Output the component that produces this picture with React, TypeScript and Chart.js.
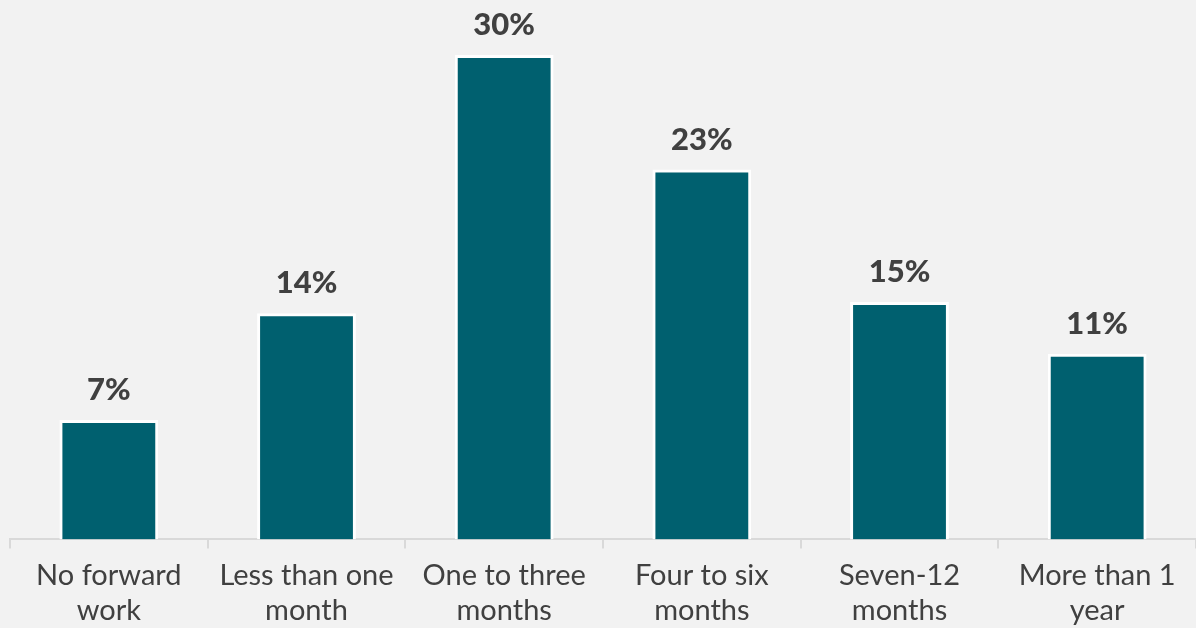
import React, { useEffect, useRef } from "react";
import { Chart, registerables } from "chart.js";
Chart.register(...registerables);

const categories: string[][] = [
  ["No forward", "work"],
  ["Less than one", "month"],
  ["One to three", "months"],
  ["Four to six", "months"],
  ["Seven-12", "months"],
  ["More than 1", "year"],
];
const values: number[] = [7.4, 14.0, 30.0, 22.9, 14.7, 11.5];
const valueLabels: string[] = ["7%", "14%", "30%", "23%", "15%", "11%"];

const labelPlugin = {
  id: "barLabels",
  afterDatasetsDraw(chart: any) {
    const ctx = chart.ctx;
    const meta = chart.getDatasetMeta(0);
    ctx.save();
    ctx.font = "900 31px Lato";
    ctx.fillStyle = "#404040";
    ctx.textAlign = "center";
    ctx.textBaseline = "alphabetic";
    meta.data.forEach((el: any, i: number) => {
      ctx.fillText(valueLabels[i], el.x, el.y - 20);
    });
    ctx.restore();
  },
};

export default function App() {
  const ref = useRef<HTMLCanvasElement | null>(null);
  useEffect(() => {
    document.body.style.margin = "0";
    document.body.style.background = "#f2f2f2";
    const chart = new Chart(ref.current!, {
      type: "bar",
      data: {
        labels: categories,
        datasets: [
          {
            data: values,
            backgroundColor: "#00606f",
            borderColor: "#ffffff",
            borderWidth: 3,
            borderSkipped: "bottom",
            barPercentage: 0.5,
            categoryPercentage: 1,
          },
        ],
      },
      options: {
        responsive: false,
        animation: false,
        layout: { padding: { left: 10, right: 0, top: 0, bottom: -10 } },
        plugins: { legend: { display: false }, tooltip: { enabled: false } },
        scales: {
          y: { display: false, min: 0, max: 33.4 },
          x: {
            grid: {
              offset: true,
              drawOnChartArea: false,
              drawTicks: true,
              tickLength: 9,
              color: "#d9d9d9",
              lineWidth: 2,
            },
            border: { display: true, color: "#d9d9d9", width: 2 },
            ticks: {
              color: "#404040",
              font: { family: "Lato", size: 29, lineHeight: 1.2 },
              padding: 10,
              maxRotation: 0,
              autoSkip: false,
            },
          },
        },
      },
      plugins: [labelPlugin],
    });
    return () => chart.destroy();
  }, []);
  return (
    <div style={{ width: 1196, height: 628, background: "#f2f2f2" }}>
      <canvas ref={ref} width={1196} height={628} style={{ display: "block" }} />
    </div>
  );
}
